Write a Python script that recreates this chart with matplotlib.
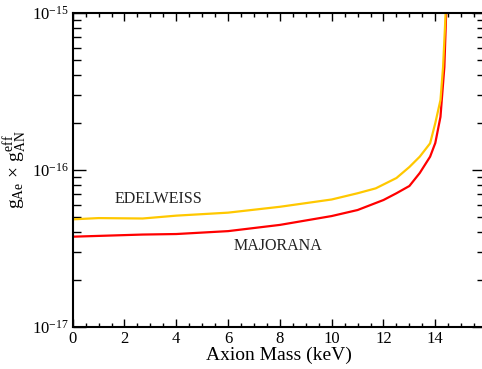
import matplotlib
matplotlib.use("Agg")
import matplotlib.pyplot as plt
from matplotlib.ticker import MultipleLocator, LogLocator, NullFormatter

plt.rcParams['font.family'] = ['Liberation Serif', 'DejaVu Serif']
plt.rcParams['mathtext.fontset'] = 'custom'
plt.rcParams['mathtext.rm'] = 'Liberation Serif'
plt.rcParams['mathtext.it'] = 'Liberation Serif:italic'
plt.rcParams['mathtext.bf'] = 'Liberation Serif:bold'

# EDELWEISS limit
edel_mass = [0, 1, 2.7, 4, 6, 8, 10, 11, 11.7, 12.5, 13.0, 13.4, 13.8, 14.0, 14.2, 14.3, 14.4]
edel_g = [4.85e-17, 4.94e-17, 4.91e-17, 5.12e-17, 5.35e-17, 5.83e-17, 6.49e-17, 7.11e-17,
          7.64e-17, 8.89e-17, 1.045e-16, 1.216e-16, 1.479e-16, 1.99e-16, 2.79e-16, 4.53e-16, 1.0e-15]

# MAJORANA limit
maj_mass = [0, 2.7, 4, 6, 8, 10, 11, 12, 12.5, 13, 13.4, 13.8, 14.0, 14.2, 14.35, 14.42]
maj_g = [3.76e-17, 3.88e-17, 3.91e-17, 4.08e-17, 4.47e-17, 5.09e-17, 5.56e-17, 6.44e-17,
         7.11e-17, 7.91e-17, 9.57e-17, 1.216e-16, 1.486e-16, 2.18e-16, 4.53e-16, 1.0e-15]

fig = plt.figure(figsize=(4.82, 3.69), dpi=100)
ax = fig.add_axes([72.7/482, 42/369, (484.5-72.7)/482, (327-13)/369])

ax.plot(maj_mass, maj_g, color='#ff0000', lw=1.6)
ax.plot(edel_mass, edel_g, color='#ffc800', lw=1.6)

ax.set_yscale('log')
ax.set_xlim(0, 15.9)
ax.set_ylim(1e-17, 1e-15)

ax.xaxis.set_major_locator(MultipleLocator(2))
ax.xaxis.set_minor_locator(MultipleLocator(0.5))
ax.yaxis.set_major_locator(LogLocator(base=10))
ax.yaxis.set_minor_locator(LogLocator(base=10, subs=range(2, 10)))
ax.yaxis.set_minor_formatter(NullFormatter())

ax.tick_params(axis='both', which='both', direction='in', top=True, right=True, width=1.0, color='black')
ax.tick_params(axis='x', which='major', length=6, labelsize=12, pad=3)
ax.tick_params(axis='x', which='minor', length=3)
ax.tick_params(axis='y', which='major', length=9.5, labelsize=12, pad=3)
ax.tick_params(axis='y', which='minor', length=5.5)
for s in ax.spines.values():
    s.set_linewidth(1.5)

ax.set_xlabel('Axion Mass (keV)', fontsize=14, labelpad=0)
ax.set_ylabel(r'$\mathrm{g}_{\mathrm{Ae}}\,\times\,\mathrm{g}_{\mathrm{AN}}^{\mathrm{eff}}$', fontsize=14, labelpad=2)

ax.text(3.3, 6.53e-17, 'EDELWEISS', fontsize=11.5, ha='center', va='center', color='#222222')
ax.text(7.93, 3.28e-17, 'MAJORANA', fontsize=11.5, ha='center', va='center', color='#222222')

fig.savefig('out.png', dpi=100)
